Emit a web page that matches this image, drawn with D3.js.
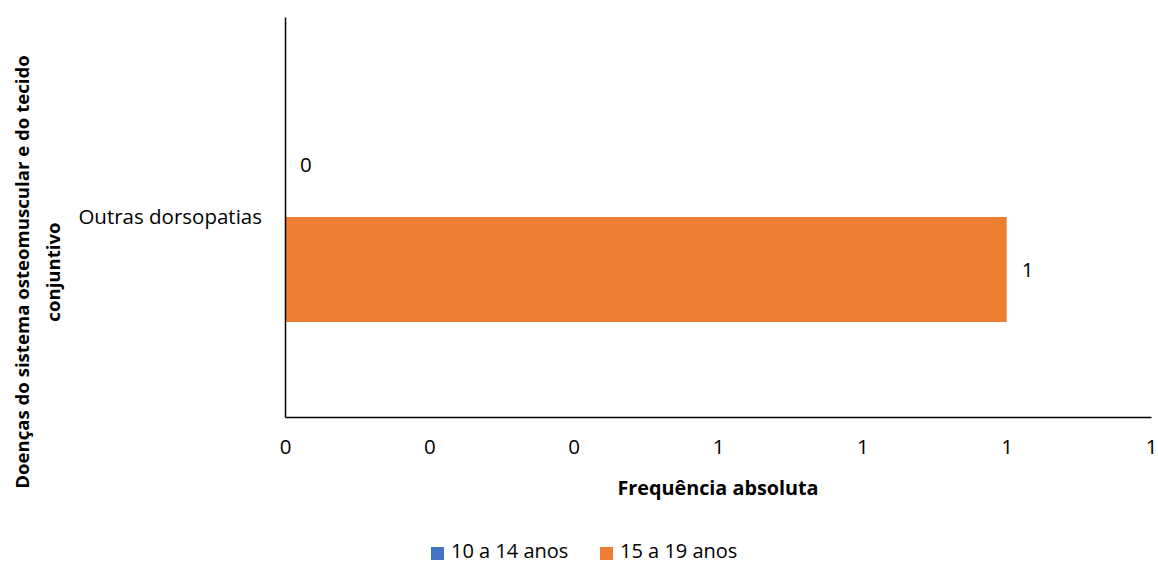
<!DOCTYPE html>
<html><head><meta charset="utf-8">
<script src="https://cdn.jsdelivr.net/npm/d3@7"></script>
<style>
html,body{margin:0;padding:0;background:#fff;}
text{font-family:"Open Sans",sans-serif;fill:#000;}
</style></head>
<body>
<svg id="chart" width="1158" height="564"></svg>
<script>
const categories = ["Outras dorsopatias"];
const seriesNames = ["10 a 14 anos", "15 a 19 anos"];
const seriesColors = ["#4472C4", "#ED7D31"];
const values10a14 = [0];
const values15a19 = [1];
const xTicks = [0, 0.2, 0.4, 0.6, 0.8, 1.0, 1.2];
const yTitleLines = ["Doenças do sistema osteomuscular e do tecido", "conjuntivo"];
const xTitle = "Frequência absoluta";

const seriesValues = [values10a14, values15a19];
const svg = d3.select("#chart");
const plotLeft = 285, plotRight = 1151, plotTop = 17, plotBottom = 417;
const fs = 20.5;

const x = d3.scaleLinear().domain([0, 1.2]).range([plotLeft, plotRight]);
const y0 = d3.scaleBand().domain(categories).range([plotTop, plotBottom]).padding(0);
const y1 = d3.scaleBand().domain(seriesNames).range([0, y0.bandwidth()]).paddingInner(0).paddingOuter(0.905);

// bars
categories.forEach((c, ci) => {
  const g = svg.append("g").attr("transform", `translate(0,${y0(c)})`);
  seriesNames.forEach((s, si) => {
    const v = seriesValues[si][ci];
    g.append("rect")
      .attr("x", x(0)).attr("y", y1(s))
      .attr("width", x(v) - x(0)).attr("height", y1.bandwidth())
      .attr("fill", seriesColors[si]);
    g.append("text")
      .attr("x", x(v) + 15).attr("y", y1(s) + y1.bandwidth() / 2)
      .attr("dy", "0.35em").attr("font-size", fs)
      .text(d3.format(".0f")(v));
  });
});

// x axis
const xAxis = svg.append("g").attr("transform", `translate(0,${plotBottom})`)
  .call(d3.axisBottom(x).tickValues(xTicks).tickSize(0).tickPadding(22).tickFormat(d3.format(".0f")));
xAxis.select(".domain").attr("stroke", "#000").attr("stroke-width", 1.5);
xAxis.selectAll("text").attr("font-family", "Open Sans").attr("font-size", fs).attr("fill", "#000");

// y axis
const yAxis = svg.append("g").attr("transform", `translate(${plotLeft},0)`)
  .call(d3.axisLeft(y0).tickSize(0).tickPadding(23));
yAxis.select(".domain").attr("stroke", "#000").attr("stroke-width", 1.5);
yAxis.selectAll("text").attr("font-family", "Open Sans").attr("font-size", fs).attr("fill", "#000");

// x title
svg.append("text").attr("x", 718).attr("y", 495).attr("text-anchor", "middle")
  .attr("font-weight", "bold").attr("font-size", 19.8).text(xTitle);

// y title
const yt = svg.append("text").attr("transform", "translate(0,272) rotate(-90)")
  .attr("text-anchor", "middle").attr("font-weight", "bold").attr("font-size", 18.6);
yTitleLines.forEach((t, i) => {
  yt.append("tspan").attr("x", 0).attr("y", 29 + i * 31).text(t);
});

// legend
const legendX = [431, 600];
seriesNames.forEach((s, i) => {
  svg.append("rect").attr("x", legendX[i]).attr("y", 547).attr("width", 13).attr("height", 13).attr("fill", seriesColors[i]);
  svg.append("text").attr("x", legendX[i] + 20).attr("y", 558).attr("font-size", 20).text(s);
});
</script>
</body></html>
